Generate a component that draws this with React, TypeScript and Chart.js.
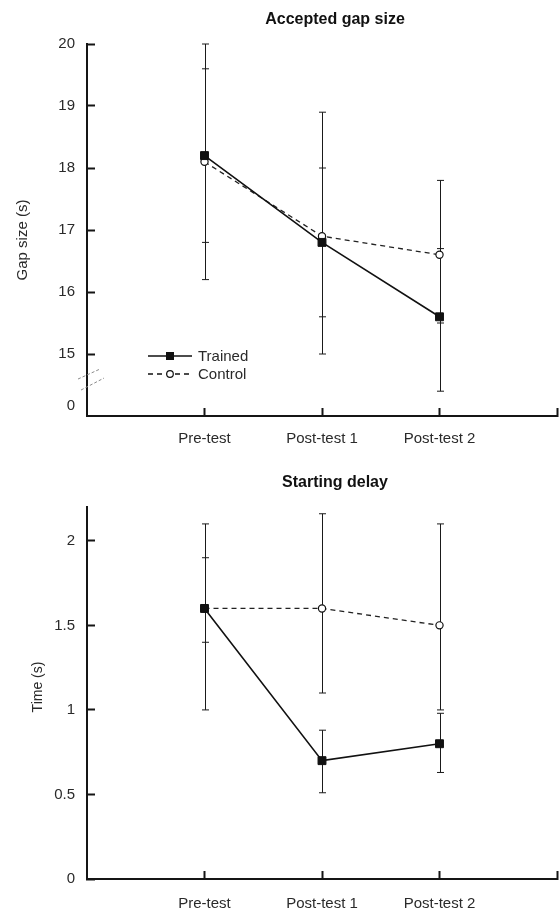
import React, { useEffect, useRef } from 'react';
import { Chart, registerables } from 'chart.js';

Chart.register(...registerables);

// ---------- data ----------
const CATEGORIES = ['Pre-test', 'Post-test 1', 'Post-test 2'];
const SERIES_NAMES = ['Trained', 'Control'];

const GAP_TRAINED = [18.2, 16.8, 15.6];
const GAP_CONTROL = [18.1, 16.9, 16.6];
const GAP_TRAINED_LOW = [16.8, 15.6, 14.4];
const GAP_TRAINED_HIGH = [19.6, 18.0, 16.7];
const GAP_CONTROL_LOW = [16.2, 15.0, 15.5];
const GAP_CONTROL_HIGH = [20.0, 18.9, 17.8];
const GAP_TICKS = [15, 16, 17, 18, 19, 20];
const GAP_BREAK_VALUE = 14.16; // position of the "0" label on the broken axis
const GAP_BREAK_LABEL = '0';

const DELAY_TRAINED = [1.6, 0.7, 0.8];
const DELAY_CONTROL = [1.6, 1.6, 1.5];
const DELAY_TRAINED_LOW = [1.4, 0.51, 0.63];
const DELAY_TRAINED_HIGH = [1.9, 0.88, 0.98];
const DELAY_CONTROL_LOW = [1.0, 1.1, 1.0];
const DELAY_CONTROL_HIGH = [2.1, 2.16, 2.1];
const DELAY_TICKS = [0, 0.5, 1, 1.5, 2];

// ---------- style ----------
const FONT = '"Liberation Sans", Arial, Helvetica, sans-serif';
const AXIS = '#151515';
const TXT = '#2a2a2a';

type Panel = {
  title: string;
  yTitle: string;
  yTitleSize: number;
  yTitleX: number;
  yTitleY: number;
  titleY: number;
  height: number;
  padTop: number;
  xAxisHeight: number;
  xLabelPad: number;
  yMin: number;
  yMax: number;
  yTicks: number[];
  breakValue?: number;
  breakLabel?: string;
  trained: number[];
  control: number[];
  trainedLow: number[];
  trainedHigh: number[];
  controlLow: number[];
  controlHigh: number[];
  legend: boolean;
};

const PANELS: Panel[] = [
  {
    title: 'Accepted gap size',
    yTitle: 'Gap size (s)',
    yTitleSize: 15,
    yTitleX: 23,
    yTitleY: 240,
    titleY: 20,
    height: 455,
    padTop: 44,
    xAxisHeight: 39,
    xLabelPad: 22,
    yMin: 14,
    yMax: 20,
    yTicks: GAP_TICKS,
    breakValue: GAP_BREAK_VALUE,
    breakLabel: GAP_BREAK_LABEL,
    trained: GAP_TRAINED,
    control: GAP_CONTROL,
    trainedLow: GAP_TRAINED_LOW,
    trainedHigh: GAP_TRAINED_HIGH,
    controlLow: GAP_CONTROL_LOW,
    controlHigh: GAP_CONTROL_HIGH,
    legend: true,
  },
  {
    title: 'Starting delay',
    yTitle: 'Time (s)',
    yTitleSize: 14,
    yTitleX: 38,
    yTitleY: 232,
    titleY: 28,
    height: 454,
    padTop: 52,
    xAxisHeight: 30,
    xLabelPad: 24,
    yMin: 0,
    yMax: 2.2,
    yTicks: DELAY_TICKS,
    trained: DELAY_TRAINED,
    control: DELAY_CONTROL,
    trainedLow: DELAY_TRAINED_LOW,
    trainedHigh: DELAY_TRAINED_HIGH,
    controlLow: DELAY_CONTROL_LOW,
    controlHigh: DELAY_CONTROL_HIGH,
    legend: false,
  },
];

function buildChart(canvas: HTMLCanvasElement, p: Panel) {
  const toPoints = (vals: number[]) => vals.map((v, i) => ({ x: i + 1, y: v }));
  const tickValues = p.breakValue !== undefined ? [p.breakValue, ...p.yTicks] : p.yTicks;

  const decor = {
    id: 'decor',
    beforeDatasetsDraw(chart: any) {
      const ctx = chart.ctx;
      const xs = chart.scales.x;
      const ys = chart.scales.y;
      const bars = [
        [p.trainedLow, p.trainedHigh],
        [p.controlLow, p.controlHigh],
      ];
      ctx.save();
      ctx.strokeStyle = '#1a1a1a';
      ctx.lineWidth = 1;
      bars.forEach(([lo, hi]) => {
        lo.forEach((l, i) => {
          const x = Math.round(xs.getPixelForValue(i + 1)) + 0.5;
          const y1 = ys.getPixelForValue(l);
          const y2 = ys.getPixelForValue(hi[i]);
          ctx.beginPath();
          ctx.moveTo(x, y1);
          ctx.lineTo(x, y2);
          ctx.moveTo(x - 3.5, y1);
          ctx.lineTo(x + 3.5, y1);
          ctx.moveTo(x - 3.5, y2);
          ctx.lineTo(x + 3.5, y2);
          ctx.stroke();
        });
      });
      ctx.restore();
    },
    afterDraw(chart: any) {
      const ctx = chart.ctx;
      const ca = chart.chartArea;
      ctx.save();
      // title
      ctx.fillStyle = '#111';
      ctx.font = `bold 16px ${FONT}`;
      ctx.textAlign = 'center';
      ctx.textBaseline = 'middle';
      ctx.fillText(p.title, (ca.left + ca.right) / 2 + 13, p.titleY);
      // y title
      ctx.save();
      ctx.translate(p.yTitleX, p.yTitleY);
      ctx.rotate(-Math.PI / 2);
      ctx.fillStyle = TXT;
      ctx.font = `${p.yTitleSize}px ${FONT}`;
      ctx.fillText(p.yTitle, 0, 0);
      ctx.restore();

      // axis break marks
      if (p.breakValue !== undefined) {
        const ys = chart.scales.y;
        const yb = ys.getPixelForValue((p.breakValue + p.yTicks[0]) / 2);
        ctx.strokeStyle = '#8a8a8a';
        ctx.lineWidth = 1;
        ctx.setLineDash([3, 2]);
        ctx.beginPath();
        ctx.moveTo(ca.left - 9, yb - 1);
        ctx.lineTo(ca.left + 13, yb - 11);
        ctx.moveTo(ca.left - 6, yb + 10);
        ctx.lineTo(ca.left + 17, yb - 2);
        ctx.stroke();
        ctx.setLineDash([]);
      }

      // legend
      if (p.legend) {
        const x0 = ca.left + 61;
        const x1 = ca.left + 105;
        const xm = (x0 + x1) / 2;
        let y = 356;
        chart.data.datasets.forEach((ds: any) => {
          ctx.strokeStyle = '#111';
          ctx.lineWidth = ds.borderWidth;
          ctx.setLineDash(ds.borderDash || []);
          ctx.beginPath();
          ctx.moveTo(x0, y);
          ctx.lineTo(x1, y);
          ctx.stroke();
          ctx.setLineDash([]);
          if (ds.pointStyle === 'rect') {
            ctx.fillStyle = '#111';
            ctx.fillRect(xm - 4, y - 4, 8, 8);
          } else {
            ctx.fillStyle = '#fff';
            ctx.lineWidth = 1.2;
            ctx.beginPath();
            ctx.arc(xm, y, 3.3, 0, Math.PI * 2);
            ctx.fill();
            ctx.stroke();
          }
          ctx.fillStyle = TXT;
          ctx.font = `15px ${FONT}`;
          ctx.textAlign = 'left';
          ctx.textBaseline = 'middle';
          ctx.fillText(ds.label, x1 + 6, y + 1);
          y += 18;
        });
      }
      ctx.restore();
    },
  };

  return new Chart(canvas, {
    type: 'line',
    data: {
      datasets: [
        {
          label: SERIES_NAMES[0],
          data: toPoints(p.trained),
          borderColor: '#111',
          borderWidth: 1.6,
          backgroundColor: '#111',
          pointStyle: 'rect',
          pointRadius: 5.6,
          pointBorderWidth: 1,
          pointBorderColor: '#111',
          pointBackgroundColor: '#111',
          tension: 0,
          clip: false,
        },
        {
          label: SERIES_NAMES[1],
          data: toPoints(p.control),
          borderColor: '#222',
          borderWidth: 1.3,
          borderDash: [5, 4],
          pointStyle: 'circle',
          pointRadius: 3.6,
          pointBorderWidth: 1.2,
          pointBorderColor: '#111',
          pointBackgroundColor: '#fff',
          tension: 0,
          clip: false,
        },
      ],
    },
    options: {
      responsive: false,
      animation: false,
      events: [],
      layout: { autoPadding: false, padding: { top: p.padTop, right: 2, left: 0, bottom: 0 } },
      plugins: {
        legend: { display: false },
        title: { display: false },
        tooltip: { enabled: false },
      },
      scales: {
        x: {
          type: 'linear',
          min: 0,
          max: 4,
          afterBuildTicks: (s: any) => {
            s.ticks = [1, 2, 3, 4].map((v) => ({ value: v }));
          },
          afterFit: (s: any) => {
            s.height = p.xAxisHeight;
            s.paddingLeft = 0;
            s.paddingRight = 0;
          },
          border: { display: true, color: AXIS, width: 2 },
          grid: {
            drawOnChartArea: false,
            drawTicks: true,
            tickLength: -8,
            tickWidth: 2,
            tickColor: AXIS,
          },
          ticks: {
            autoSkip: false,
            maxRotation: 0,
            padding: p.xLabelPad,
            color: TXT,
            font: { family: FONT, size: 15 },
            callback: (v: any) => CATEGORIES[Number(v) - 1] ?? '',
          },
        },
        y: {
          type: 'linear',
          min: p.yMin,
          max: p.yMax,
          afterBuildTicks: (s: any) => {
            s.ticks = tickValues.map((v) => ({ value: v }));
          },
          afterFit: (s: any) => {
            s.width = 87;
            s.paddingTop = 0;
            s.paddingBottom = 0;
          },
          border: { display: true, color: AXIS, width: 2 },
          grid: {
            drawOnChartArea: false,
            drawTicks: true,
            tickLength: -8,
            tickWidth: 2,
            tickColor: (c: any) =>
              p.breakValue !== undefined && c.tick && c.tick.value === p.breakValue ? 'rgba(0,0,0,0)' : AXIS,
          },
          ticks: {
            autoSkip: false,
            padding: 20,
            color: TXT,
            font: { family: FONT, size: 15 },
            callback: (v: any) =>
              p.breakValue !== undefined && Number(v) === p.breakValue ? p.breakLabel : String(v),
          },
        },
      },
    } as any,
    plugins: [decor],
  } as any);
}

function PanelChart({ panel, top }: { panel: Panel; top: number }) {
  const ref = useRef<HTMLCanvasElement | null>(null);
  useEffect(() => {
    if (!ref.current) return;
    const chart = buildChart(ref.current, panel);
    return () => chart.destroy();
  }, [panel]);
  return (
    <canvas
      ref={ref}
      width={559}
      height={panel.height}
      style={{ position: 'absolute', left: 0, top, width: 559, height: panel.height, display: 'block' }}
    />
  );
}

export default function App() {
  return (
    <div style={{ position: 'absolute', left: 0, top: 0, width: 559, height: 909, background: '#fff' }}>
      <PanelChart panel={PANELS[0]} top={0} />
      <PanelChart panel={PANELS[1]} top={455} />
    </div>
  );
}
